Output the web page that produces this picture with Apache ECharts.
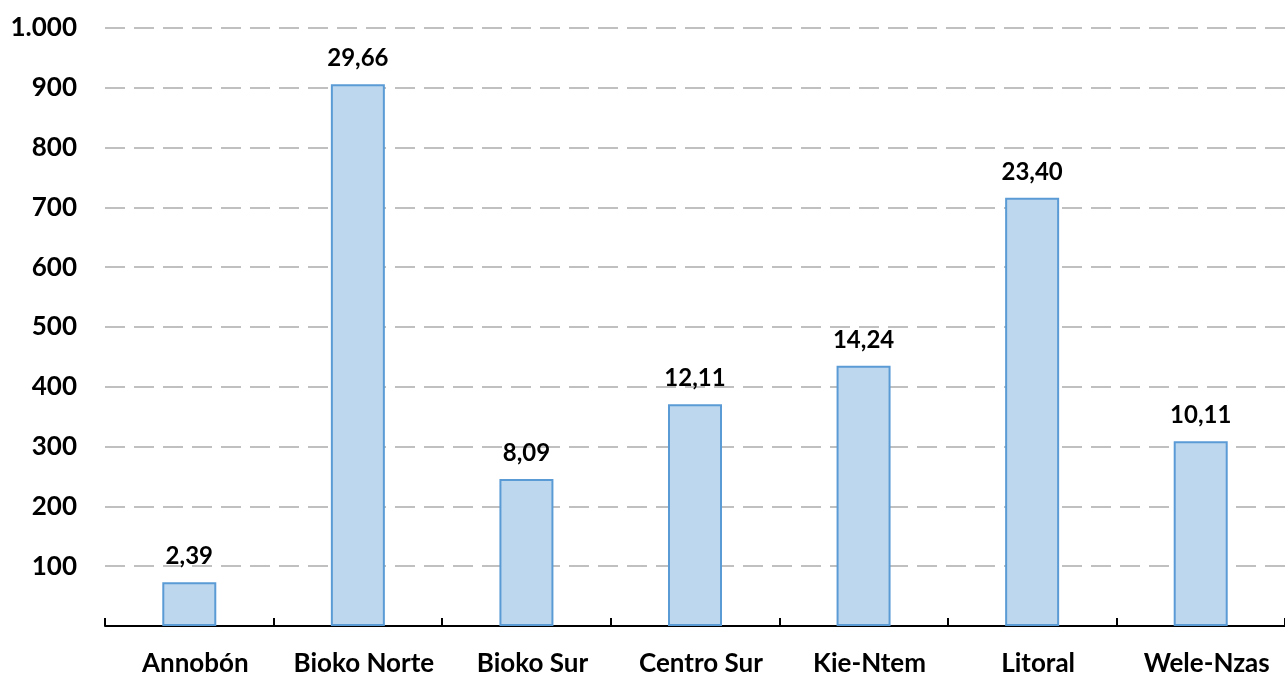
<!DOCTYPE html>
<html>
<head>
    <meta charset="utf-8">
    <title>Provincias</title>
    <script src="https://cdn.jsdelivr.net/npm/echarts/dist/echarts.min.js"></script>
    <style>
        html, body { margin: 0; padding: 0; background: #fff; }
    </style>
</head>
<body>
    <div id="main" style="width: 1285px; height: 677px;"></div>
    <script>
        // datos
        var provincias = ['Annobón', 'Bioko Norte', 'Bioko Sur', 'Centro Sur', 'Kie-Ntem', 'Litoral', 'Wele-Nzas'];
        var valores = [73, 906, 246, 371, 435, 716, 309];
        var porcentajes = ['2,39', '29,66', '8,09', '12,11', '14,24', '23,40', '10,11'];

        var chart = echarts.init(document.getElementById('main'));
        var fuente = 'Lato, "Open Sans", sans-serif';

        var option = {
            animation: false,
            grid: { left: 105, top: 28, bottom: 51, width: 1190 },
            xAxis: {
                type: 'category',
                data: provincias,
                axisLine: { lineStyle: { color: '#000', width: 2 } },
                axisTick: { show: true, interval: 0, inside: true, length: 8, lineStyle: { color: '#000', width: 2 } },
                axisLabel: {
                    interval: 0, hideOverlap: false,
                    padding: [0, 0, 0, 12],
                    margin: 25, color: '#000', fontSize: 26, fontWeight: 'bold', fontFamily: fuente
                }
            },
            yAxis: {
                type: 'value',
                min: 0, max: 1000, interval: 100,
                axisLine: { show: false },
                axisTick: { show: false },
                axisLabel: {
                    margin: 28, color: '#000', fontSize: 26, fontWeight: 'bold', fontFamily: fuente,
                    formatter: function (v) {
                        if (v === 0) return '';
                        return v >= 1000 ? '1.000' : String(v);
                    }
                },
                splitLine: { lineStyle: { color: '#c0c0c0', width: 2, type: [20, 9] } }
            },
            series: [{
                type: 'bar',
                data: valores,
                barWidth: 54,
                itemStyle: { color: '#BDD7EE', borderColor: '#5B9BD5', borderWidth: 2 },
                label: {
                    show: true,
                    position: 'top',
                    distance: 14,
                    color: '#000',
                    fontSize: 24,
                    fontWeight: 'bold',
                    fontFamily: fuente,
                    formatter: function (p) { return porcentajes[p.dataIndex]; }
                }
            }]
        };

        chart.setOption(option);
    </script>
</body>
</html>
